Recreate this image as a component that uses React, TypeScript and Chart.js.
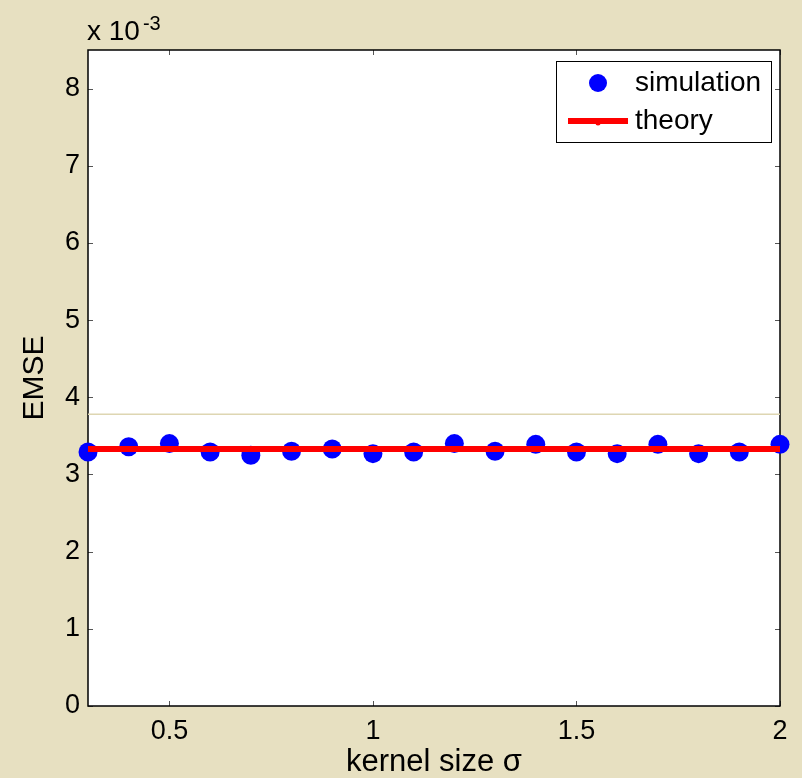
import React, { useEffect, useRef } from 'react';
import { Chart, registerables } from 'chart.js';

Chart.register(...registerables);

// ---- data (EMSE in units of 1e-3) ----
const sigmaValues = [0.3, 0.4, 0.5, 0.6, 0.7, 0.8, 0.9, 1.0, 1.1, 1.2, 1.3, 1.4, 1.5, 1.6, 1.7, 1.8, 1.9, 2.0];
const simulationEMSE = [3.29, 3.36, 3.40, 3.29, 3.25, 3.30, 3.33, 3.27, 3.29, 3.40, 3.30, 3.39, 3.29, 3.27, 3.39, 3.27, 3.29, 3.39];
const theorySigma = [0.3, 2.0];
const theoryEMSE = [3.33, 3.33];
const faintLineSigma = [0.3, 2.0];
const faintLineEMSE = [3.78, 3.78];
const xTickValues = [0.5, 1, 1.5, 2];
const yTickValues = [0, 1, 2, 3, 4, 5, 6, 7, 8];
const seriesLabels = ['simulation', 'theory'];
const xTitle = 'kernel size σ';
const yTitle = 'EMSE';
const exponentBase = 'x 10';
const exponentPower = '-3';

const FONT = '"Liberation Sans", Arial, Helvetica, sans-serif';
const BG = 'rgb(231, 224, 193)';

const backgroundPlugin = {
  id: 'bgPlugin',
  beforeDraw(chart: any) {
    const { ctx, chartArea } = chart;
    ctx.save();
    ctx.fillStyle = BG;
    ctx.fillRect(0, 0, chart.width, chart.height);
    ctx.fillStyle = '#ffffff';
    ctx.fillRect(chartArea.left, chartArea.top, chartArea.right - chartArea.left, chartArea.bottom - chartArea.top);
    ctx.restore();
  },
};

const framePlugin = {
  id: 'framePlugin',
  beforeDatasetsDraw(chart: any) {
    const { ctx, chartArea } = chart;
    const xs = chart.scales.x;
    const ys = chart.scales.y;
    const tl = 5;
    ctx.save();
    ctx.strokeStyle = '#555555';
    ctx.lineWidth = 1;
    ctx.beginPath();
    xs.ticks.forEach((t: any) => {
      const px = Math.round(xs.getPixelForValue(t.value)) + 0.5;
      ctx.moveTo(px, chartArea.bottom);
      ctx.lineTo(px, chartArea.bottom - tl);
      ctx.moveTo(px, chartArea.top);
      ctx.lineTo(px, chartArea.top + tl);
    });
    ys.ticks.forEach((t: any) => {
      const py = Math.round(ys.getPixelForValue(t.value)) + 0.5;
      ctx.moveTo(chartArea.left, py);
      ctx.lineTo(chartArea.left + tl, py);
      ctx.moveTo(chartArea.right, py);
      ctx.lineTo(chartArea.right - tl, py);
    });
    ctx.stroke();
    ctx.strokeStyle = '#000000';
    ctx.lineWidth = 1.5;
    ctx.strokeRect(chartArea.left, chartArea.top, chartArea.right - chartArea.left, chartArea.bottom - chartArea.top);
    ctx.restore();
  },
};

const overlayPlugin = {
  id: 'overlayPlugin',
  afterDraw(chart: any) {
    const { ctx, chartArea } = chart;
    ctx.save();
    // exponent label
    ctx.fillStyle = '#000000';
    ctx.textBaseline = 'alphabetic';
    ctx.textAlign = 'left';
    ctx.font = `28px ${FONT}`;
    ctx.fillText(exponentBase, chartArea.left - 1, chartArea.top - 10);
    const w = ctx.measureText(exponentBase).width;
    ctx.font = `20px ${FONT}`;
    ctx.fillText(exponentPower, chartArea.left - 1 + w + 3, chartArea.top - 20);

    // legend
    const bx = chartArea.right - 224;
    const by = chartArea.top + 11;
    const bw = 215;
    const bh = 81;
    ctx.fillStyle = '#ffffff';
    ctx.fillRect(bx, by, bw, bh);
    ctx.strokeStyle = '#000000';
    ctx.lineWidth = 1;
    ctx.strokeRect(bx + 0.5, by + 0.5, bw, bh);

    const ds = chart.data.datasets;
    const sim = ds[0];
    const th = ds[1];
    // simulation marker
    ctx.fillStyle = sim.backgroundColor;
    ctx.beginPath();
    ctx.arc(bx + 42, by + 22, 9, 0, Math.PI * 2);
    ctx.fill();
    // theory line
    ctx.strokeStyle = th.borderColor;
    ctx.lineWidth = 6;
    ctx.beginPath();
    ctx.moveTo(bx + 12, by + 60);
    ctx.lineTo(bx + 72, by + 60);
    ctx.stroke();
    ctx.fillStyle = th.borderColor;
    ctx.beginPath();
    ctx.arc(bx + 42, by + 62, 2.5, 0, Math.PI * 2);
    ctx.fill();

    ctx.fillStyle = '#000000';
    ctx.font = `28px ${FONT}`;
    ctx.textBaseline = 'middle';
    ctx.fillText(sim.label, bx + 79, by + 22);
    ctx.fillText(th.label, bx + 79, by + 60);
    ctx.restore();
  },
};

export default function App() {
  const canvasRef = useRef<HTMLCanvasElement | null>(null);

  useEffect(() => {
    if (!canvasRef.current) return;
    const chart = new Chart(canvasRef.current, {
      type: 'scatter',
      data: {
        datasets: [
          {
            label: seriesLabels[0],
            data: sigmaValues.map((x, i) => ({ x, y: simulationEMSE[i] })),
            backgroundColor: '#0000ff',
            borderColor: '#0000ff',
            borderWidth: 0,
            pointRadius: 9.5,
            pointHoverRadius: 9.5,
            showLine: false,
            clip: false as any,
            order: 1,
          },
          {
            label: seriesLabels[1],
            data: theorySigma.map((x, i) => ({ x, y: theoryEMSE[i] })),
            borderColor: '#ff0000',
            backgroundColor: '#ff0000',
            borderWidth: 6,
            pointRadius: 0,
            showLine: true,
            order: 0,
          },
          {
            label: 'faint',
            data: faintLineSigma.map((x, i) => ({ x, y: faintLineEMSE[i] })),
            borderColor: 'rgb(222, 214, 178)',
            borderWidth: 1.5,
            pointRadius: 0,
            showLine: true,
            order: 2,
          },
        ],
      },
      options: {
        responsive: false,
        animation: false,
        events: [],
        layout: { padding: { top: 50, right: 22, bottom: 0, left: 0 } },
        plugins: {
          legend: { display: false },
          tooltip: { enabled: false },
        },
        scales: {
          x: {
            type: 'linear',
            min: 0.3,
            max: 2,
            grid: { display: false, drawTicks: false },
            border: { display: false },
            afterBuildTicks: (scale: any) => {
              scale.ticks = xTickValues.map((v) => ({ value: v }));
            },
            afterFit: (scale: any) => {
              scale.height = 72;
            },
            ticks: {
              autoSkip: false,
              maxRotation: 0,
              padding: 9,
              color: '#000000',
              font: { family: FONT, size: 27 },
              callback: (v: any) => String(v),
            },
            title: {
              display: true,
              text: xTitle,
              color: '#000000',
              font: { family: FONT, size: 31, lineHeight: 1 },
              padding: { top: 0, bottom: 0 },
            },
          },
          y: {
            type: 'linear',
            min: 0,
            max: 8.5,
            grid: { display: false, drawTicks: false },
            border: { display: false },
            afterBuildTicks: (scale: any) => {
              scale.ticks = yTickValues.map((v) => ({ value: v }));
            },
            afterFit: (scale: any) => {
              scale.width = 88;
            },
            ticks: {
              autoSkip: false,
              padding: 8,
              color: '#000000',
              font: { family: FONT, size: 27 },
              callback: (v: any) => String(v),
            },
            title: {
              display: true,
              text: yTitle,
              color: '#000000',
              font: { family: FONT, size: 30, lineHeight: 1 },
              padding: { top: 20, bottom: 0 },
            },
          },
        },
      },
      plugins: [backgroundPlugin, framePlugin, overlayPlugin],
    });
    return () => chart.destroy();
  }, []);

  return (
    <div style={{ position: 'absolute', left: 0, top: 0, width: 802, height: 778 }}>
      <canvas ref={canvasRef} width={802} height={778} />
    </div>
  );
}
